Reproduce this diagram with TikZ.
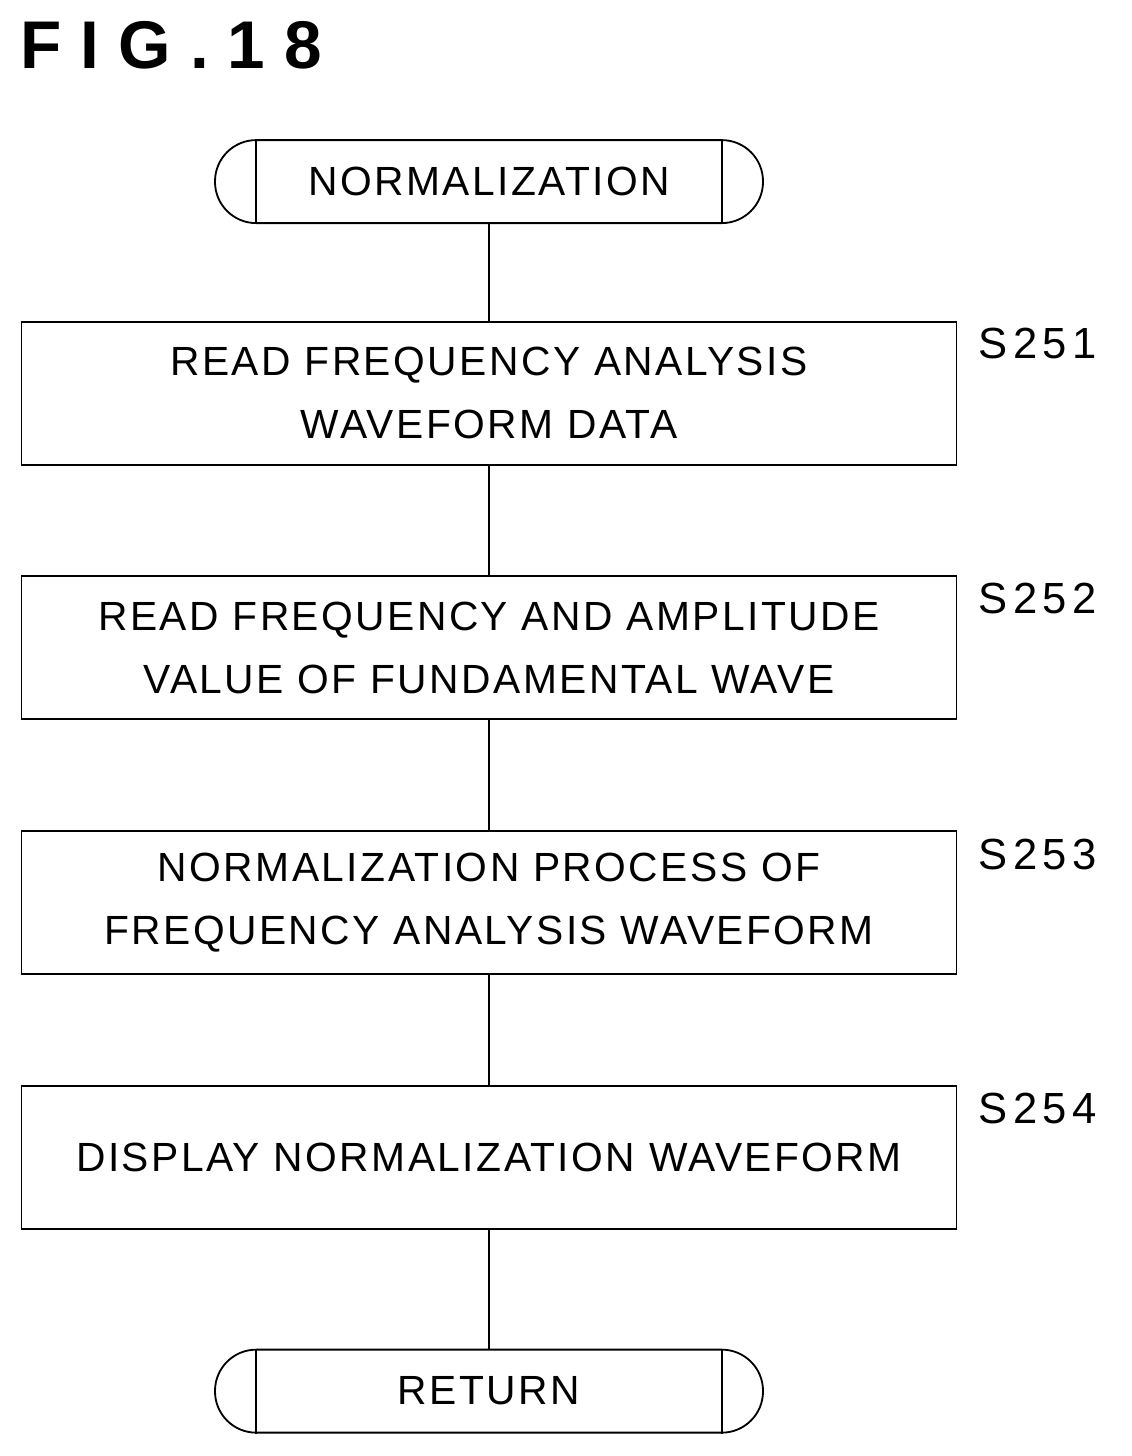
\documentclass[tikz,border=0pt]{standalone}
\usepackage{fontspec}
\setmainfont{Liberation Sans}
\usepackage{tikz}
\usetikzlibrary{positioning}

\begin{document}
\begin{tikzpicture}[node distance = 2.745cm, line width=1.3pt, font=\fontsize{29}{36}\selectfont\addfontfeature{LetterSpace=6}]
            \tikzstyle{terminal} = [draw, rectangle, rounded corners=1.03cm, minimum width=13.7cm, minimum height=2.075cm, inner sep=0pt];
            \tikzstyle{process} = [draw, rectangle, minimum width=23.375cm, minimum height=3.575cm, align=center, inner sep=0pt];
            \tikzstyle{steplabel} = [anchor=west, inner sep=0pt, font=\fontsize{31}{36}\selectfont\addfontfeature{LetterSpace=12}];
            \useasboundingbox (0,0) rectangle (28.3,-36.4);

            \node [anchor=base west, inner sep=0pt, font=\fontsize{48}{50}\selectfont\bfseries\addfontfeature{LetterSpace=28}] (title) at (0.5,-1.7) {FIG.18};

            \node [terminal] (start) at (12.225,-4.54) {NORMALIZATION};

            \node [process, below = 2.42cm of start] (S1) {READ FREQUENCY ANALYSIS\\[0.3cm]WAVEFORM DATA};
            \node [process, below = of S1] (S2) {READ FREQUENCY AND AMPLITUDE\\[0.3cm]VALUE OF FUNDAMENTAL WAVE};
            \node [process, below = of S2] (S3) {NORMALIZATION PROCESS OF\\[0.3cm]FREQUENCY ANALYSIS WAVEFORM};
            \node [process, below = of S3] (S4) {DISPLAY NORMALIZATION WAVEFORM};

            \node [terminal, below = 2.98cm of S4] (stop) {RETURN};

            \foreach \t in {start, stop}
                \draw ([xshift=1.05cm]\t.north west) -- ([xshift=1.05cm]\t.south west)
                      ([xshift=-1.05cm]\t.north east) -- ([xshift=-1.05cm]\t.south east);

            \node [steplabel] (L1) at (24.45,-8.58) {S251};
            \node [steplabel] (L2) at (24.45,-14.95) {S252};
            \node [steplabel] (L3) at (24.45,-21.35) {S253};
            \node [steplabel] (L4) at (24.45,-27.7) {S254};

            \draw (start) -- (S1);
            \draw (S1) -- (S2);
            \draw (S2) -- (S3);
            \draw (S3) -- (S4);
            \draw (S4) -- (stop);
\end{tikzpicture}
\end{document}
